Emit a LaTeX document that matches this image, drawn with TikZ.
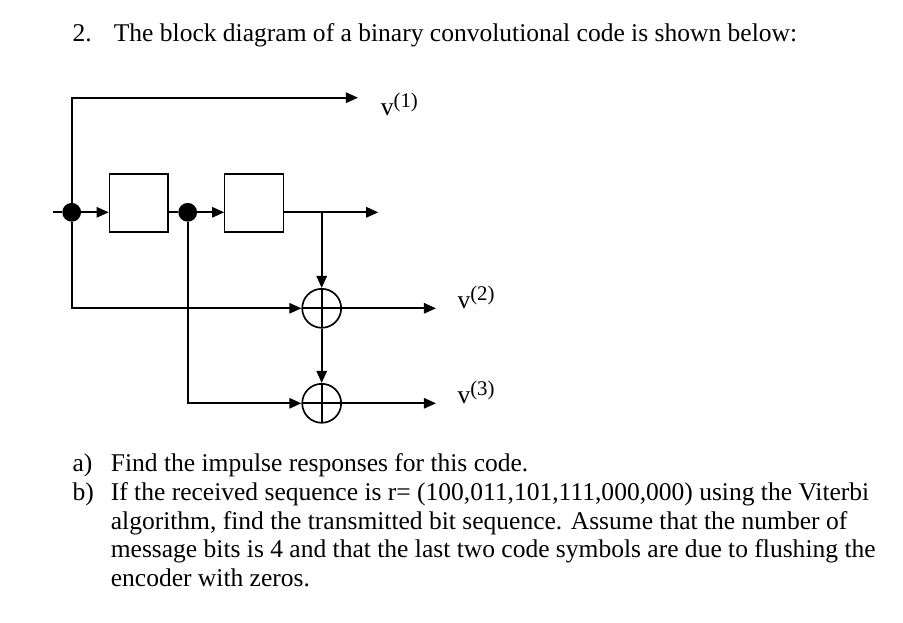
\documentclass[tikz,border=0pt]{standalone}
\usepackage{fontspec}
\setmainfont{Liberation Serif}
\usetikzlibrary{arrows.meta,calc,positioning}
\newcommand{\outsup}[1]{v\raisebox{3.6pt}{\fontsize{10pt}{10pt}\selectfont(#1)}}
\tikzset{
encoder/.style={>={Triangle[length=5.8pt,width=5pt]},line width=0.8pt,
x=0.48pt,y=-0.48pt},
register/.style={rectangle,draw,line width=0.6pt,minimum width=28.2pt,minimum height=27.8pt,inner sep=0pt},
junction/.style={circle,draw,fill=black,minimum size=8.2pt,inner sep=0pt},
adder/.style={circle,draw,minimum size=18.7pt,inner sep=0pt,
  path picture={\draw (path picture bounding box.north) -- (path picture bounding box.south)
  (path picture bounding box.west) -- (path picture bounding box.east);}},
txt/.style={anchor=base west,inner sep=0pt,font=\fontsize{12.25pt}{14pt}\selectfont},
}

\begin{document}
\begin{tikzpicture}[encoder]
\useasboundingbox (0,0) rectangle (903,623);

% question text
\node[txt] (qnum) at (71.7,41.7) {2.};
\node[txt] (qtext) at (113,41.7) {The block diagram of a binary convolutional code is shown below:};

% encoder
\coordinate (in) at (53,212.3);
\node[junction] (j1) at (71.7,212.3) {};
\node[register] (r1) at (138.7,203) {};
\node[junction] (j2) at (187.7,212.3) {};
\node[register] (r2) at (254.2,203) {};
\coordinate (tap) at (321.7,212.3);
\coordinate (out) at (378.3,212.3);
\node[adder] (a1) at (321.7,308.3) {};
\node[adder] (a2) at (321.7,403.3) {};
\coordinate (o1) at (358,97.7);
\coordinate (o2) at (436,308.3);
\coordinate (o3) at (436,403.3);

\draw (in) -- (j1);
\draw[->] (j1) -- (j1 -| r1.west);
\draw (r1.east |- j2) -- (j2);
\draw[->] (j2) -- (j2 -| r2.west);
\draw[->] (r2.east |- tap) -- (out);
\draw[->] (j1) |- (o1);
\draw[->] (j1) |- (a1);
\draw[->] (j2) |- (a2);
\draw[->] (tap) -- (a1);
\draw[->] (a1) -- (a2);
\draw[->] (a1) -- (o2);
\draw[->] (a2) -- (o3);

\node[txt] (v1) at (380,115) {\outsup{1}};
\node[txt] (v2) at (456.7,308.3) {\outsup{2}};
\node[txt] (v3) at (456.7,403.3) {\outsup{3}};

% parts
\node[txt] (parta) at (71.7,471.7) {a)};
\node[txt] (partatext) at (110,471.7) {Find the impulse responses for this code.};
\node[txt] (partb) at (71.7,500.4) {b)};
\node[txt] (partbline1) at (110,500.4) {If the received sequence is r= (100,011,101,111,000,000) using the Viterbi};
\node[txt] (partbline2) at (110,529.1) {algorithm, find the transmitted bit sequence. Assume that the number of};
\node[txt] (partbline3) at (110,557.8) {message bits is 4 and that the last two code symbols are due to flushing the};
\node[txt] (partbline4) at (110,586.5) {encoder with zeros.};
\end{tikzpicture}
\end{document}
